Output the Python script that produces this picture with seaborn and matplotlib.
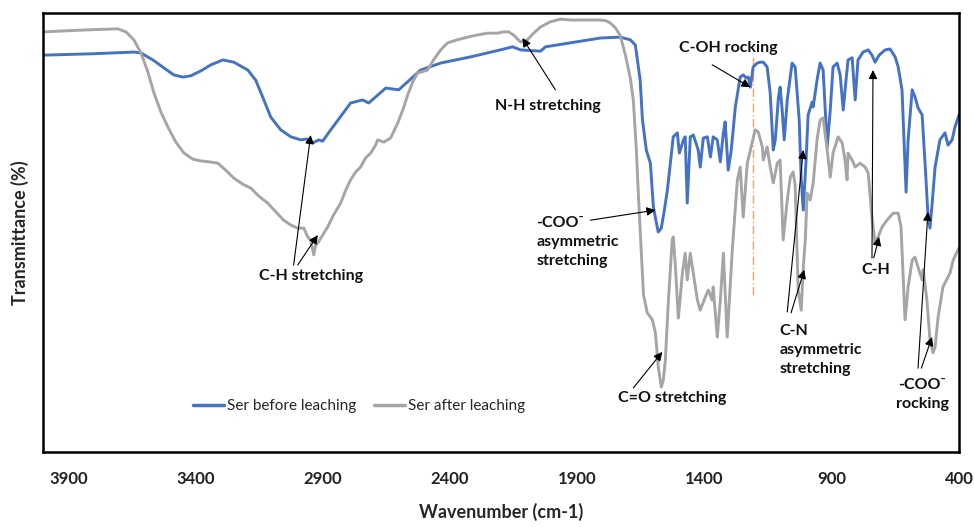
import matplotlib
matplotlib.use("Agg")
import matplotlib.pyplot as plt
import numpy as np
import pandas as pd
import seaborn as sns

# FTIR spectra of the serine sample before and after leaching
wn_before = [4000, 3812, 3643,
             3615, 3568, 3525, 3486, 3450, 3419, 3380, 3340, 3293, 3250,
             3195, 3164, 3132, 3105, 3066, 3026, 2987,
             2964, 2940, 2916, 2901,
             2869, 2791, 2744, 2720, 2653, 2602, 2516, 2437, 2320, 2202,
             2155, 2123, 2045, 2025, 1927, 1809, 1731, 1692, 1672, 1653,
             1644, 1629, 1613, 1601, 1590, 1582, 1570, 1558, 1546, 1523,
             1507, 1499, 1483, 1476, 1468, 1456, 1444, 1425, 1417, 1405,
             1389, 1377, 1366, 1350, 1338, 1326, 1319, 1307, 1295, 1279,
             1260, 1248, 1236, 1228, 1220, 1209, 1193, 1181, 1169, 1154,
             1142, 1130, 1122, 1110, 1103, 1095, 1087, 1075, 1056, 1044,
             1028, 1020, 1012, 1001, 993, 977, 973, 958, 946, 934,
             918, 906, 895, 879, 867, 855, 844, 836, 820, 808,
             797, 777, 757, 742, 730, 714, 690, 671, 651, 639,
             624, 616, 608, 600, 584, 573, 561, 545, 533, 522,
             514, 506, 494, 475, 455, 443, 427, 416, 404, 400]
t_before = [90.4, 90.7, 91.1,
            90.9, 89.3, 87.5, 85.9, 85.4, 85.7, 86.8, 88.2, 89.3, 88.8,
            87.0, 84.7, 80.2, 76.3, 73.4, 71.8, 71.1,
            71.3, 70.4, 71.1, 70.8,
            73.4, 79.5, 80.2, 79.5, 82.9, 82.5, 87.0, 88.6, 90.0, 91.6,
            92.3, 91.6, 91.3, 92.3, 93.2, 94.3, 94.5, 93.9, 92.7, 84.7,
            75.6, 68.8, 65.8, 55.8, 52.4, 50.1, 51.0, 55.1, 59.7, 71.8,
            72.7, 68.1, 71.1, 71.8, 56.7, 71.8, 72.2, 68.8, 64.9, 71.5,
            71.8, 67.2, 71.8, 71.1, 66.1, 72.7, 75.2, 64.2, 68.8, 78.6,
            85.4, 85.9, 85.2, 85.4, 83.1, 87.7, 88.6, 88.8, 88.8, 87.7,
            81.8, 68.8, 71.1, 80.6, 83.1, 77.9, 71.1, 80.2, 88.6, 87.7,
            75.6, 62.0, 55.1, 66.5, 76.8, 79.7, 78.6, 84.7, 88.6, 87.0,
            69.5, 77.9, 87.7, 88.6, 85.9, 77.9, 84.7, 89.3, 89.8, 80.2,
            89.3, 91.1, 91.6, 90.4, 88.8, 90.4, 91.6, 91.8, 90.0, 87.7,
            82.5, 71.1, 59.2, 71.1, 82.5, 80.9, 78.4, 76.8, 65.4, 54.0,
            51.0, 56.3, 64.9, 71.1, 72.7, 69.9, 71.1, 74.0, 76.1, 76.8]

wn_after = [4000, 3851, 3706, 3674, 3643, 3615, 3588, 3564, 3537, 3509,
            3478, 3446, 3411, 3380, 3348, 3313, 3282, 3250, 3215, 3183,
            3152, 3117, 3085, 3054, 3026, 2999, 2975, 2960, 2948, 2936,
            2928, 2920, 2901, 2881, 2858, 2830, 2810, 2791, 2771, 2752,
            2732, 2712, 2693, 2685, 2661, 2634, 2606, 2583, 2567, 2547,
            2528, 2489, 2465, 2437, 2410, 2371, 2331, 2292, 2253, 2214,
            2190, 2170, 2151, 2135, 2123, 2108, 2096, 2072, 2045, 2006,
            1966, 1927, 1876, 1809, 1786, 1770, 1750, 1731, 1711, 1692,
            1680, 1668, 1660, 1652, 1640, 1625, 1605, 1593, 1582, 1570,
            1562, 1554, 1542, 1527, 1523, 1515, 1503, 1487, 1476, 1468,
            1456, 1448, 1428, 1417, 1397, 1385, 1370, 1366, 1350, 1338,
            1326, 1311, 1291, 1271, 1260, 1248, 1232, 1213, 1201, 1189,
            1173, 1169, 1154, 1142, 1130, 1114, 1103, 1091, 1075, 1063,
            1052, 1044, 1032, 1020, 1012, 1004, 997, 985, 973, 958,
            946, 934, 918, 906, 895, 875, 859, 848, 840, 836,
            820, 808, 789, 769, 757, 742, 730, 718, 702, 683,
            659, 639, 628, 620, 612, 600, 584, 573, 561, 545,
            541, 526, 514, 502, 494, 482, 463, 435, 423, 404,
            400]
t_after = [95.7, 96.1, 96.4, 95.7, 93.9, 90.9, 86.6, 81.8, 77.5, 74.0,
           70.6, 68.1, 66.7, 66.3, 66.1, 65.8, 64.2, 62.4, 61.0, 60.1,
           58.3, 56.7, 54.7, 52.8, 51.7, 51.0, 51.0, 49.0, 48.3, 44.9,
           47.2, 47.6, 49.4, 51.3, 54.0, 56.7, 59.7, 62.0, 63.8, 64.9,
           67.0, 68.1, 69.9, 71.1, 70.6, 71.5, 74.9, 78.4, 81.3, 84.3,
           86.3, 87.0, 89.3, 91.6, 93.2, 93.9, 94.5, 95.0, 95.4, 95.4,
           95.7, 95.7, 95.0, 94.1, 93.4, 93.6, 93.9, 95.4, 96.8, 98.0,
           98.6, 98.4, 98.4, 98.4, 98.2, 97.7, 96.6, 94.8, 90.4, 85.2,
           80.2, 68.8, 58.5, 49.4, 35.8, 31.7, 30.1, 27.1, 19.4, 14.8,
           16.4, 21.0, 34.6, 48.3, 49.0, 42.6, 30.5, 40.8, 45.3, 39.2,
           45.3, 42.1, 34.6, 32.3, 35.3, 36.9, 34.6, 37.6, 26.2, 34.6,
           45.3, 26.2, 46.0, 62.0, 64.9, 53.5, 65.8, 70.4, 73.4, 72.9,
           69.5, 66.5, 69.5, 64.9, 61.3, 65.8, 66.5, 48.3, 57.4, 62.6,
           63.8, 60.8, 36.9, 32.3, 42.1, 48.3, 59.0, 57.4, 61.3, 71.1,
           75.6, 76.1, 68.8, 62.6, 68.1, 71.8, 70.4, 66.5, 62.0, 68.1,
           66.5, 64.9, 65.8, 64.9, 63.6, 53.5, 47.6, 49.0, 51.3, 52.8,
           54.4, 54.4, 51.3, 40.8, 30.1, 37.6, 43.7, 44.4, 42.1, 39.2,
           41.5, 34.6, 25.5, 22.6, 23.9, 30.8, 37.6, 40.8, 43.7, 46.0,
           46.5]

series_names = ["Ser before leaching", "Ser after leaching"]
series_colors = ["#4472C4", "#A5A5A5"]
x_ticks = [3900, 3400, 2900, 2400, 1900, 1400, 900, 400]

df = pd.concat([
    pd.DataFrame({"Wavenumber": wn_before, "T": t_before, "Sample": series_names[0]}),
    pd.DataFrame({"Wavenumber": wn_after, "T": t_after, "Sample": series_names[1]}),
], ignore_index=True)

sns.set_theme(style="white")
plt.rcParams["font.family"] = ["Lato", "DejaVu Sans"]

fig = plt.figure(figsize=(9.74, 5.27), dpi=100)
ax = fig.add_axes([43 / 974, 1 - 452 / 527, 916 / 974, 439 / 527])

sns.lineplot(data=df, x="Wavenumber", y="T", hue="Sample",
             palette=dict(zip(series_names, series_colors)),
             estimator=None, sort=False, linewidth=2.1, ax=ax)
for ln in ax.get_lines():
    ln.set_solid_joinstyle("round")
    ln.set_solid_capstyle("round")

ax.set_xlim(4000, 400)
ax.set_ylim(0, 100)
ax.set_xticks(x_ticks)
ax.set_xticklabels([str(v) for v in x_ticks], fontsize=12, fontweight="bold",
                   color="#222222")
ax.set_yticks([])
ax.tick_params(axis="x", direction="in", length=5, width=1.6, pad=14,
               color="black")
for sp in ax.spines.values():
    sp.set_color("black")
    sp.set_linewidth(1.8)

ax.set_xlabel("Wavenumber (cm-1)", fontsize=13, fontweight="bold", labelpad=11)
ax.set_ylabel("Transmittance (%)", fontsize=13, fontweight="bold", labelpad=10)

# reference line through the C-OH band
ax.plot([1209, 1209], [35.8, 90.4], color="#F4A06B", linewidth=1.0,
        linestyle=(0, (6, 2, 1, 2)), zorder=1)

arrow_kw = dict(arrowstyle="-|>", color="black", lw=0.8,
                mutation_scale=13, shrinkA=0, shrinkB=0)
label_kw = dict(fontsize=11.5, fontweight="bold", color="#111111")


def arrow(start, tip):
    ax.annotate("", xy=tip, xytext=start, arrowprops=arrow_kw, zorder=5)


# band assignments
ax.text(2948, 40.1, "C-H stretching", ha="center", va="center", **label_kw)
arrow((3015, 42.6), (2948, 72.2))
arrow((2999, 42.6), (2920, 49.4))

ax.text(2017, 78.8, "N-H stretching", ha="center", va="center", **label_kw)
arrow((1986, 82.5), (2116, 94.3))

ax.text(2060, 47.9, "-COO\u207b\nasymmetric\nstretching", ha="left",
        va="center", linespacing=1.45, **label_kw)
arrow((1849, 52.8), (1593, 55.1))

ax.text(1527, 12.3, "C=O stretching", ha="center", va="center", **label_kw)
arrow((1680, 14.6), (1566, 22.8))

ax.text(1307, 92.0, "C-OH rocking", ha="center", va="center", **label_kw)
arrow((1370, 88.2), (1220, 83.1))

ax.text(1106, 23.2, "C-N\nasymmetric\nstretching", ha="left", va="center",
        linespacing=1.45, **label_kw)
arrow((1075, 31.9), (1012, 68.8))
arrow((1060, 31.7), (1008, 41.5))

ax.text(726, 41.5, "C-H", ha="center", va="center", **label_kw)
arrow((742, 44.2), (738, 87.0))
arrow((735, 44.2), (714, 49.0))

ax.text(545, 13.0, "-COO\u207b\nrocking", ha="center", va="center",
        linespacing=1.45, **label_kw)
arrow((561, 19.1), (522, 54.7))
arrow((548, 19.1), (506, 26.2))

leg = ax.legend(loc="center left", bbox_to_anchor=(0.164, 0.105), ncol=2,
                frameon=False, fontsize=11, handlelength=2.0,
                handletextpad=0.2, columnspacing=1.2, borderaxespad=0,
                borderpad=0)
for h in leg.get_lines():
    h.set_linewidth(2.5)

fig.savefig("out.png", dpi=100)
